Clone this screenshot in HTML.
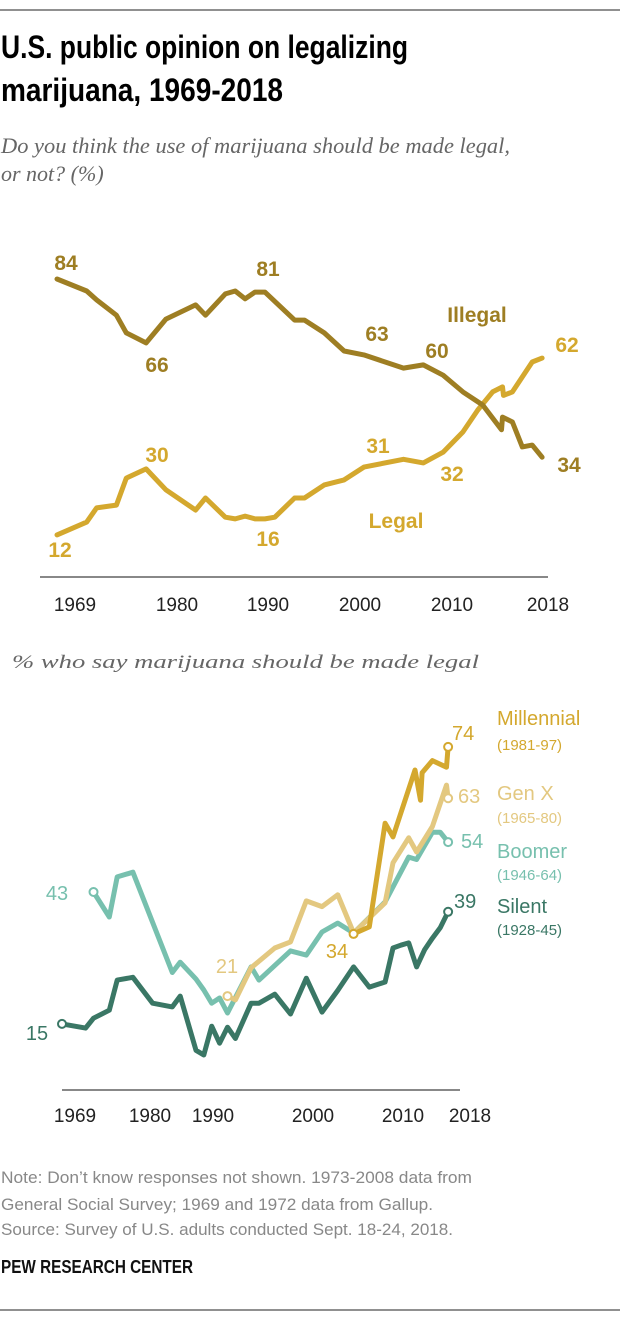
<!DOCTYPE html>
<html><head><meta charset="utf-8"><style>
html,body{margin:0;padding:0;background:#fff;}
svg{display:block;}
.t{font-family:"Liberation Sans Narrow","Liberation Sans",sans-serif;}
.s{font-family:"Liberation Serif",serif;font-style:italic;fill:#666;}
</style></head><body>
<svg id="chart" width="620" height="1321" viewBox="0 0 620 1321" xmlns="http://www.w3.org/2000/svg">
<line x1="0" y1="10" x2="620" y2="10" stroke="#222" stroke-width="1"/>
<text class="t" x="1" y="58" font-size="32" font-weight="bold" textLength="407" lengthAdjust="spacingAndGlyphs">U.S. public opinion on legalizing</text>
<text class="t" x="1" y="101" font-size="32" font-weight="bold" textLength="282" lengthAdjust="spacingAndGlyphs">marijuana, 1969-2018</text>
<text class="s" x="1" y="153" font-size="22" textLength="509" lengthAdjust="spacingAndGlyphs">Do you think the use of marijuana should be made legal,</text>
<text class="s" x="1" y="181" font-size="22">or not? (%)</text>

<g id="topchart"></g>
<line x1="40" y1="577" x2="548" y2="577" stroke="#888" stroke-width="2"/>

<text class="s" x="12" y="668" font-size="19" textLength="467" lengthAdjust="spacingAndGlyphs">% who say marijuana should be made legal</text>
<g id="bottomchart"></g>
<line x1="62" y1="1090" x2="460" y2="1090" stroke="#888" stroke-width="2"/>

<g class="t" font-size="17" fill="#888">
<text x="1" y="1183" textLength="471" lengthAdjust="spacingAndGlyphs">Note: Don’t know responses not shown. 1973-2008 data from</text>
<text x="1" y="1210" textLength="432" lengthAdjust="spacingAndGlyphs">General Social Survey; 1969 and 1972 data from Gallup.</text>
<text x="1" y="1235" textLength="452" lengthAdjust="spacingAndGlyphs">Source: Survey of U.S. adults conducted Sept. 18-24, 2018.</text>
</g>
<text class="t" x="1" y="1273" font-size="18" font-weight="bold" fill="#111" textLength="192" lengthAdjust="spacingAndGlyphs">PEW RESEARCH CENTER</text>
<line x1="0" y1="1310" x2="620" y2="1310" stroke="#222" stroke-width="1"/>
</svg>
<script>
// ---- top chart data ----
const topIllegalYears = [1969,1972,1973,1975,1976,1978,1980,1983,1984,1986,1987,1988,1989,1990,1993,1994,1996,1998,2000,2004,2006,2008,2010,2012,2013.9,2014,2015,2016,2017,2018];
const topIllegalValues = [84.8,81.4,78.9,74.6,69.6,66.8,73.5,77.5,74.6,80.6,81.4,79.2,81.1,81.1,73.2,73.2,69.6,64.5,63.4,59.7,60.6,57.7,53,49.3,42.3,45.9,44.5,37.5,38,34.6];
const topLegalYears = [1969,1972,1973,1975,1976,1978,1980,1983,1984,1986,1987,1988,1989,1990,1991,1993,1994,1996,1998,2000,2004,2006,2008,2010,2011.5,2013,2014,2014.1,2015,2017,2018];
const topLegalValues = [12.7,16.3,20.3,21.1,28.7,31.3,25.4,19.7,23.1,17.7,17.2,18,17.2,17.2,17.7,23.1,23.1,26.8,28.2,31.8,34,33,36,41.7,47.9,53,54.4,52,53,61.4,62.5];
const topTicks = ["1969","1980","1990","2000","2010","2018"];
const topTickLabelX = [75,177,268,360,452,548];

// ---- bottom chart data ----
const silentYears = [1969,1972,1973,1975,1976,1978,1980.5,1983,1984,1986,1987,1988,1989,1990,1991,1993,1994,1996,1998,2000,2002,2004,2006,2008,2010,2011,2012,2013,2014,2015,2016,2017,2018];
const silentValues = [15.1,14.2,16.3,18,24.4,25,19.5,18.7,21,9.5,8.5,14.6,11,14.4,12,19.5,19.5,21.4,17.2,24.8,17.6,22.2,27.2,22.9,24,31.2,31.8,32.3,27.2,30.8,33.3,35.5,38.9];
const boomerYears = [1973,1975,1976,1978,1983,1984,1986,1987,1988,1989,1990,1993,1994,1998,2000,2002,2004,2006,2010,2013,2014,2016,2017,2018];
const boomerValues = [43.1,37.8,46.3,47.3,26,28.2,24.6,22.3,19.5,20.6,17.4,27.2,24.4,30.6,29.7,34.6,36.5,34.4,41,50.5,50,55.8,55.8,53.7];
const genxYears = [1990,1991,1993,1996,1998,2000,2002,2004,2006,2010,2011,2013,2014,2016,2017.8,2018];
const genxValues = [21,20.2,27,31.2,32.5,41.2,40,42.5,34.4,40.8,49.3,54.6,51.6,57,65.8,63];
const millYears = [2006,2008,2010,2011,2013.8,2014.5,2014.7,2016,2017.8,2018];
const millValues = [34.2,35.7,57.7,54.8,69,62.6,68.4,71,69.6,73.9];
const bottomTicks = ["1969","1980","1990","2000","2010","2018"];
const bottomTickLabelX = [75,150,213,313,403,470];

const NS = "http://www.w3.org/2000/svg";
const tx = y => 57 + (y - 1969) * 9.9;
const ty = v => 580 - v * 3.55;
const bx = y => 62 + (y - 1969) * 7.88;
const by = v => 1095 - v * 4.71;
const last = a => a[a.length - 1];

function mk(tag, attrs, parent){
  const e = document.createElementNS(NS, tag);
  for (const k in attrs) e.setAttribute(k, attrs[k]);
  parent.appendChild(e);
  return e;
}
function drawLine(parent, years, vals, fx, fy, color, w, name){
  const d = years.map((y,i)=>(i?'L':'M')+fx(y).toFixed(1)+','+fy(vals[i]).toFixed(1)).join(' ');
  const p = mk('path',{d:d,fill:'none',stroke:color,'stroke-width':w,'stroke-linejoin':'round','stroke-linecap':'round'},parent);
  
  
  return p;
}
function label(parent, x, y, txt, color, size, weight, anchor, name){
  const t = mk('text',{x:x,y:y,fill:color,'font-size':size,'font-weight':weight,'text-anchor':anchor,'class':'t'},parent);
  t.textContent = txt;
  
  
  return t;
}
function dot(parent, x, y, color, name){
  const c = mk('circle',{cx:x,cy:y,r:4,fill:'#fff',stroke:color,'stroke-width':2},parent);
  
  
}

const IL = '#9e7e23', LG = '#d4a82e';
const topG = document.getElementById('topchart');
drawLine(topG, topLegalYears, topLegalValues, tx, ty, LG, 5, 'legal-line');
drawLine(topG, topIllegalYears, topIllegalValues, tx, ty, IL, 5, 'illegal-line');
const tl = [[66,270,'84',IL],[157,372,'66',IL],[268,276,'81',IL],[377,341,'63',IL],[437,358,'60',IL],[569,472,'34',IL],[477,322,'Illegal',IL],
            [60,557,'12',LG],[157,462,'30',LG],[268,546,'16',LG],[378,453,'31',LG],[452,481,'32',LG],[567,352,'62',LG],[396,528,'Legal',LG]];
tl.forEach(a=>label(topG,a[0],a[1],a[2],a[3],21,'bold','middle','top-value-label'));
topTicks.forEach((t,i)=>label(topG,topTickLabelX[i],611,t,'#222',19,'normal','middle','top-x-tick'));

const SI='#3a7765', BO='#77c0ae', GX='#e3c880', MI='#d4a82e';
const botG = document.getElementById('bottomchart');
drawLine(botG, boomerYears, boomerValues, bx, by, BO, 5, 'boomer-line');
drawLine(botG, genxYears, genxValues, bx, by, GX, 5, 'genx-line');
drawLine(botG, millYears, millValues, bx, by, MI, 5, 'millennial-line');
drawLine(botG, silentYears, silentValues, bx, by, SI, 5, 'silent-line');
dot(botG, bx(silentYears[0]), by(silentValues[0]), SI, 'silent-start-dot');
dot(botG, bx(boomerYears[0]), by(boomerValues[0]), BO, 'boomer-start-dot');
dot(botG, bx(genxYears[0]), by(genxValues[0]), GX, 'genx-start-dot');
dot(botG, bx(millYears[0]), by(millValues[0]), MI, 'millennial-start-dot');
dot(botG, bx(last(silentYears)), by(last(silentValues)), SI, 'silent-end-dot');
dot(botG, bx(last(boomerYears)), by(last(boomerValues)), BO, 'boomer-end-dot');
dot(botG, bx(last(genxYears)), by(last(genxValues)), GX, 'genx-end-dot');
dot(botG, bx(last(millYears)), by(last(millValues)), MI, 'millennial-end-dot');
const bl = [[37,1040,'15',SI,'middle'],[57,900,'43',BO,'middle'],[227,973,'21',GX,'middle'],[337,958,'34',MI,'middle'],
            [452,740,'74',MI,'start'],[458,803,'63',GX,'start'],[461,848,'54',BO,'start'],[454,908,'39',SI,'start']];
bl.forEach(a=>label(botG,a[0],a[1],a[2],a[3],20,'normal',a[4],'bottom-value-label'));
const leg = [['Millennial','(1981-97)',725,750,MI],['Gen X','(1965-80)',800,823,GX],['Boomer','(1946-64)',858,880,BO],['Silent','(1928-45)',913,935,SI]];
leg.forEach(a=>{
  label(botG,497,a[2],a[0],a[4],20,'normal','start','legend-name');
  label(botG,497,a[3],a[1],a[4],15,'normal','start','legend-years');
});
bottomTicks.forEach((t,i)=>label(botG,bottomTickLabelX[i],1122,t,'#222',19,'normal','middle','bottom-x-tick'));
</script>
</body></html>
